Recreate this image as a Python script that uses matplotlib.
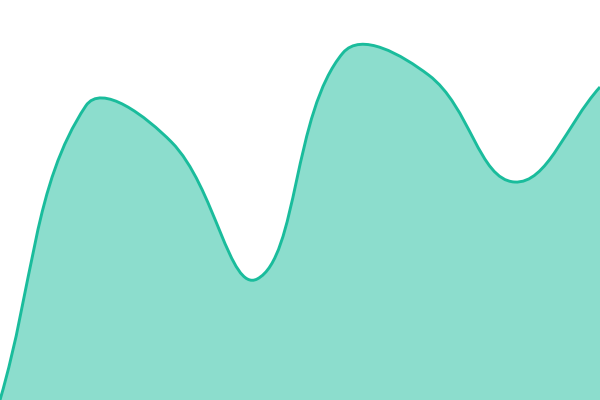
import matplotlib
matplotlib.use("Agg")
import matplotlib.pyplot as plt
import numpy as np
from matplotlib.path import Path
from matplotlib.patches import PathPatch

# valores (altura sobre la base, escala 0-400)
labels = ["A", "B", "C", "D", "E", "F", "G", "H"]
values = [0, 294, 258, 121, 347, 325, 218, 313]

line_color = "#1abc9c"
tension = 0.4
y_max = 400


def spline_controls(pts, t):
    """Puntos de control tipo Chart.js (tension) en coordenadas de pixel."""
    n = len(pts)
    cps = []
    for i in range(n):
        cur = pts[i]
        prev = pts[i - 1] if i > 0 else cur
        nxt = pts[i + 1] if i < n - 1 else cur
        d01 = np.hypot(*(cur - prev))
        d12 = np.hypot(*(nxt - cur))
        tot = d01 + d12
        s01 = d01 / tot if tot else 0
        s12 = d12 / tot if tot else 0
        c_prev = cur - t * s01 * (nxt - prev)
        c_next = cur + t * s12 * (nxt - prev)
        c_prev[1] = np.clip(c_prev[1], 0, y_max)
        c_next[1] = np.clip(c_next[1], 0, y_max)
        cps.append((c_prev, c_next))
    return cps


fig = plt.figure(figsize=(6, 4), dpi=100)
ax = fig.add_axes([0, 0, 1, 1])
n = len(values)
sx = 600 / (n - 1)
pts = [np.array([i * sx, v], dtype=float) for i, v in enumerate(values)]
cps = spline_controls(pts, tension)

verts = [tuple(pts[0])]
codes = [Path.MOVETO]
for i in range(n - 1):
    verts += [tuple(cps[i][1]), tuple(cps[i + 1][0]), tuple(pts[i + 1])]
    codes += [Path.CURVE4] * 3
# escalar x a índices de categoría
verts = [(x / sx, y) for x, y in verts]

line_path = Path(verts, codes)
fill_verts = verts + [(n - 1, 0), (0, 0), verts[0]]
fill_codes = codes + [Path.LINETO, Path.LINETO, Path.CLOSEPOLY]
ax.add_patch(PathPatch(Path(fill_verts, fill_codes), facecolor=line_color,
                       alpha=0.5, edgecolor="none"))
ax.add_patch(PathPatch(line_path, facecolor="none", edgecolor=line_color,
                       linewidth=2.1))

ax.set_xlim(0, n - 1)
ax.set_ylim(0, y_max)
ax.axis("off")

fig.savefig("out.png", dpi=100)
